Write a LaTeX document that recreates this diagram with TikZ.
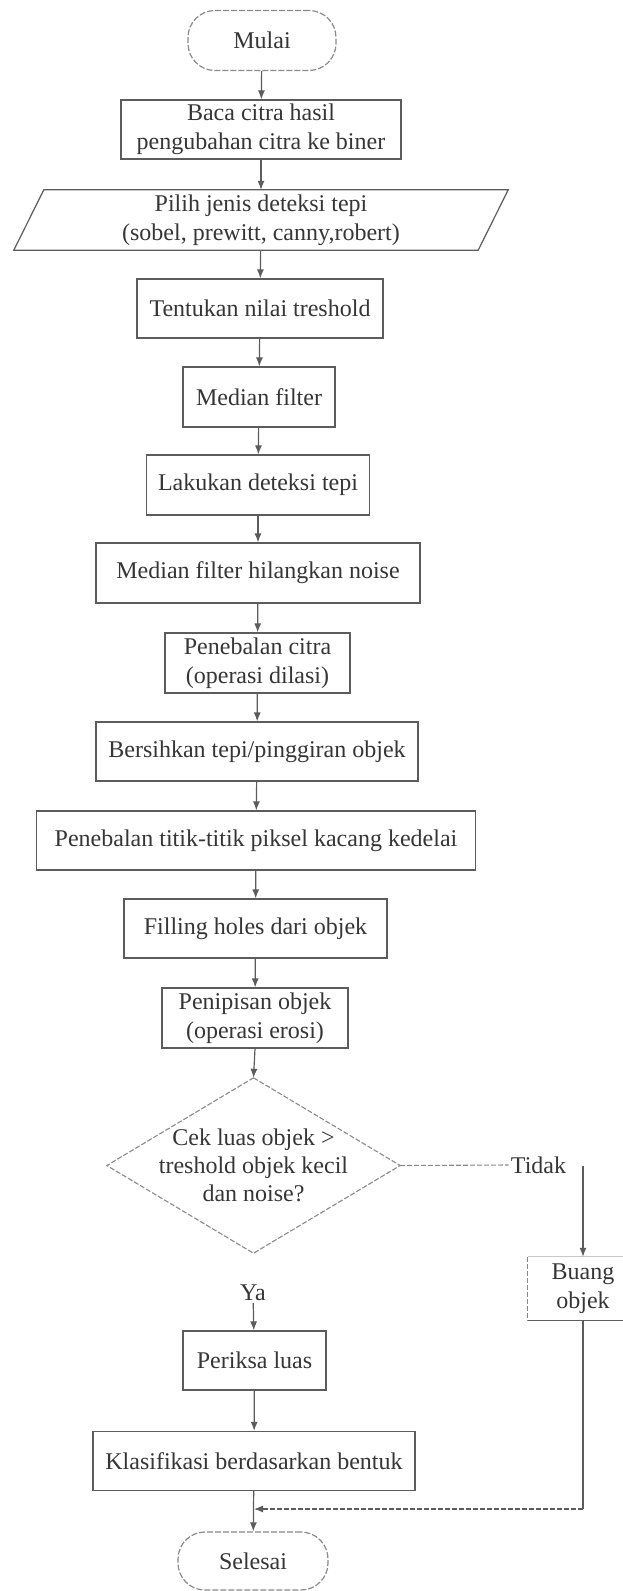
\documentclass[tikz,border=0pt]{standalone}
\usepackage{fontspec}
\setmainfont{Liberation Serif}
\usetikzlibrary{arrows.meta}
\definecolor{ink}{HTML}{363636}
\definecolor{edge}{HTML}{5C5C5C}
\definecolor{faintedge}{HTML}{8A8A8A}
\definecolor{ghostedge}{HTML}{C8C8C8}
\begin{document}
\begin{tikzpicture}[x=1pt,y=-1pt,
  every node/.style={font=\fontsize{24}{29}\selectfont, text=ink},
  box/.style={draw=edge, line width=1.2pt, minimum width=#1, minimum height=60pt, inner sep=0pt, align=center},
  term/.style={draw=faintedge, line width=1.2pt, dash pattern=on 6pt off 2pt, rounded corners=27pt, minimum width=#1, minimum height=60pt, inner sep=0pt},
  plain/.style={minimum width=#1, inner sep=0pt, align=center},
  conn/.style={draw=edge, line width=1.2pt},
  faintline/.style={draw=faintedge, line width=1.1pt, dash pattern=on 5pt off 2pt},
  ghostline/.style={draw=ghostedge, line width=1.1pt},
  arr/.style={draw=edge, line width=1.2pt, -{Latex[length=9pt,width=7pt]}},
  lbl/.style={inner sep=2pt}
]
\useasboundingbox (0,0) rectangle (623,1591);
\fill[white] (0,0) rectangle (623,1591);
\clip (0,0) rectangle (623,1591);

% nodes
\node[term=148pt] (mulai) at (262,40.5) {Mulai};
\node[box=280pt, minimum height=59pt] (baca) at (261,129.5) {Baca citra hasil\\pengubahan citra ke biner};
\node[plain=464pt, minimum height=60pt] (pilih) at (261,220) {Pilih jenis deteksi tepi\\(sobel, prewitt, canny,robert)};
\draw[conn] ([xshift=15pt]pilih.north west) -- ([xshift=15pt]pilih.north east)
  -- ([xshift=-15pt]pilih.south east) -- ([xshift=-15pt]pilih.south west) -- cycle;
\node[box=246pt, minimum height=59pt] (tentukan) at (260,308.5) {Tentukan nilai treshold};
\node[box=152pt] (median1) at (259,397) {Median filter};
\node[box=223pt] (lakukan) at (258,485) {Lakukan deteksi tepi};
\node[box=324pt] (median2) at (258,573) {Median filter hilangkan noise};
\node[box=185pt] (tebal1) at (257.5,663) {Penebalan citra\\(operasi dilasi)};
\node[box=322pt, minimum height=59pt] (bersih) at (257,751.5) {Bersihkan tepi/pinggiran objek};
\node[box=439pt, minimum height=59pt] (tebal2) at (256,840.5) {Penebalan titik-titik piksel kacang kedelai};
\node[box=263pt, minimum height=59pt] (filling) at (255.5,928.5) {Filling holes dari objek};
\node[box=186pt] (tipis) at (255,1018) {Penipisan objek\\(operasi erosi)};
\node[plain=293pt, minimum height=175pt, font=\fontsize{24}{28}\selectfont] (cek) at (253.5,1165.5) {Cek luas objek >\\treshold objek kecil\\dan noise?};
\draw[faintline] (cek.north) -- (cek.east) -- (cek.south) -- (cek.west) -- cycle;
\node[lbl] (tidak) at (538.5,1165) {Tidak};
\coordinate (tk) at (583,1166);
\node[plain=110pt, minimum height=63pt] (buang) at (583,1288.5) {Buang\\objek};
\draw[ghostline] (buang.north west) -- (buang.north east);
\draw[faintline] (buang.north west) -- (buang.south west);
\draw[conn] (buang.south west) -- (buang.south east);
\node[lbl] (ya) at (253,1293) {Ya};
\node[box=143pt, minimum height=59pt] (periksa) at (254.5,1360.5) {Periksa luas};
\node[box=322pt, minimum height=59pt] (klas) at (254,1461) {Klasifikasi berdasarkan bentuk};
\node[term=150pt, minimum height=58pt] (selesai) at (253,1561) {Selesai};
\coordinate (mg) at (583,1509);

% connectors
\draw[arr] (mulai) -- (baca);
\draw[arr] (baca) -- (pilih);
\draw[arr] (pilih) -- (tentukan);
\draw[arr] (tentukan) -- (median1);
\draw[arr] (median1) -- (lakukan);
\draw[arr] (lakukan) -- (median2);
\draw[arr] (median2) -- (tebal1);
\draw[arr] (tebal1) -- (bersih);
\draw[arr] (bersih) -- (tebal2);
\draw[arr] (tebal2) -- (filling);
\draw[arr] (filling) -- (tipis);
\draw[arr] (tipis.south) -- (cek.north);
\draw[faintline] (cek.east) -- (tidak.west);
\draw[arr] (tk) -- (buang.north);
\draw[arr] (ya) -- (periksa);
\draw[arr] (periksa) -- (klas);
\draw[arr] (klas) -- (selesai);
\draw[conn] (buang.south) -- (mg);
\draw[faintline, -{Latex[length=9pt,width=7pt]}, draw=edge] (mg) -- (klas.south |- mg);
\end{tikzpicture}
\end{document}
